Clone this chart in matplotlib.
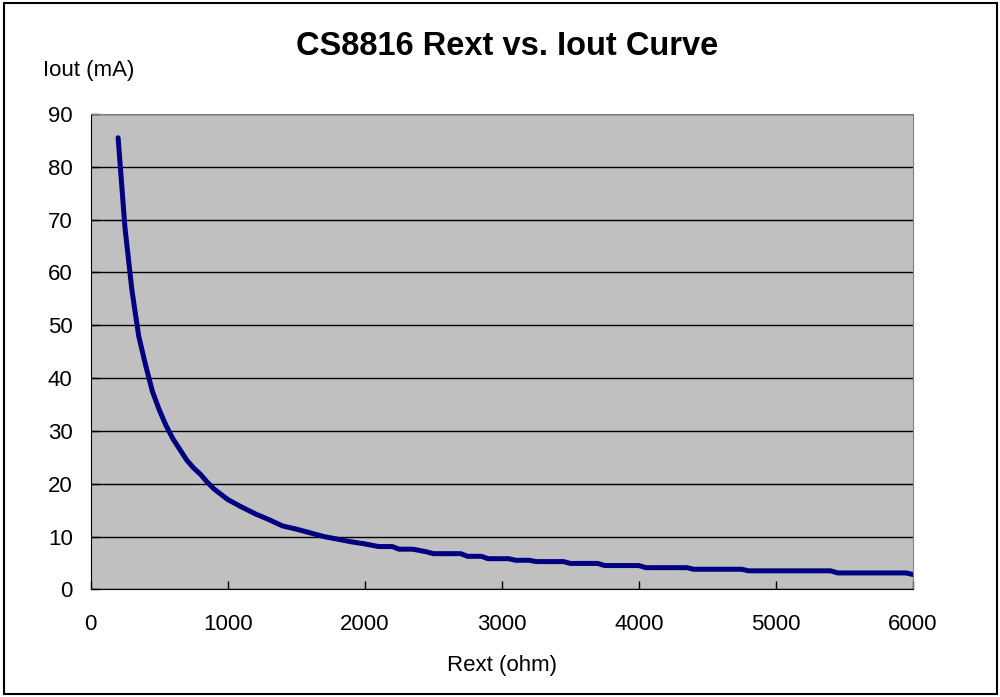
import matplotlib.pyplot as plt
from matplotlib.patches import Rectangle

plt.rcParams['font.family'] = ['Liberation Sans', 'DejaVu Sans']

# Rext (ohm) e Iout (mA)
rext = [200, 250, 300, 350, 400, 450, 500, 550, 600, 650, 700, 750, 800, 850,
        900, 950, 1000, 1100, 1200, 1300, 1400, 1500, 1600, 1700, 1800, 1900,
        2000, 2100, 2200, 2250, 2350, 2450, 2500, 2700, 2750, 2850, 2900, 3050,
        3100, 3200, 3250, 3450, 3500, 3700, 3750, 4000, 4050, 4350, 4400, 4750,
        4800, 5400, 5450, 5950, 6000]
iout = [85.5, 68.5, 56.8, 48.0, 42.5, 37.5, 34.0, 31.0, 28.5, 26.5, 24.5, 23.0,
        21.8, 20.3, 19.0, 18.0, 17.0, 15.6, 14.3, 13.2, 12.0, 11.4, 10.7, 10.0,
        9.5, 9.0, 8.6, 8.1, 8.1, 7.6, 7.6, 7.1, 6.75, 6.75, 6.25, 6.25, 5.8, 5.8,
        5.5, 5.5, 5.25, 5.25, 4.9, 4.9, 4.5, 4.5, 4.1, 4.1, 3.8, 3.8,
        3.5, 3.5, 3.1, 3.1, 2.8]

x_ticks = [0, 1000, 2000, 3000, 4000, 5000, 6000]
y_ticks = [0, 10, 20, 30, 40, 50, 60, 70, 80, 90]

fig = plt.figure(figsize=(10, 6.97), dpi=100)
ax = fig.add_axes([0.0907, 0.1545, 0.8223, 0.6819])

ax.set_facecolor('#C0C0C0')
ax.plot(rext, iout, color='#000080', lw=3.6, solid_capstyle='round',
        solid_joinstyle='round', zorder=3)

ax.set_xlim(0, 6000)
ax.set_ylim(0, 90)
ax.set_xticks(x_ticks)
ax.set_yticks(y_ticks)
ax.tick_params(axis='x', direction='in', length=6, pad=18, labelsize=16, width=1)
ax.tick_params(axis='y', direction='in', length=6, pad=13, labelsize=16, width=1)
ax.grid(axis='y', color='black', lw=1)
ax.set_axisbelow(True)

for s in ['top', 'right']:
    ax.spines[s].set_color('#808080')
for s in ['left', 'bottom']:
    ax.spines[s].set_color('black')

ax.set_xlabel('Rext (ohm)', fontsize=16, labelpad=14)
fig.text(0.043, 0.899, 'Iout (mA)', fontsize=16, ha='left', va='center')
fig.text(0.5075, 0.934, 'CS8816 Rext vs. Iout Curve', fontsize=23.5,
         fontweight='bold', ha='center', va='center')

# bordo esterno
fig.patches.append(Rectangle((0.004, 1 - 694 / 697), 0.993, (694 - 3) / 697,
                             transform=fig.transFigure, fill=False,
                             edgecolor='black', lw=1.5))

plt.savefig('out.png')
plt.close()
